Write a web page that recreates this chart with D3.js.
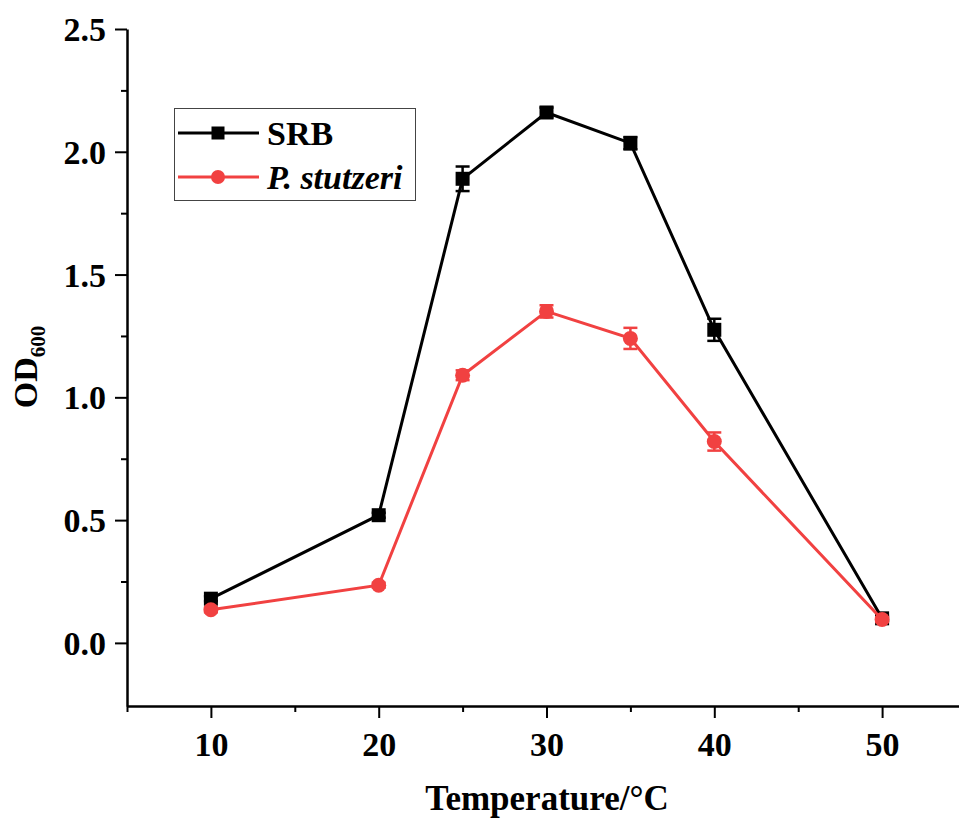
<!DOCTYPE html>
<html>
<head>
<meta charset="utf-8">
<script src="https://cdn.jsdelivr.net/npm/d3@7/dist/d3.min.js"></script>
<style>
    body { margin: 0; background: #fff; }
    svg { display: block; font-family: "Liberation Serif", "Times New Roman", serif; font-weight: bold; }
</style>
</head>
<body>
<div class="chart"></div>
<script>
const temps = [10, 20, 25, 30, 35, 40, 50];
const srbValues = [0.18, 0.52, 1.89, 2.16, 2.035, 1.275, 0.10];
const srbErrors = [0.01, 0.01, 0.05, 0.02, 0.025, 0.045, 0.01];
const stutzeriValues = [0.135, 0.235, 1.09, 1.35, 1.24, 0.82, 0.095];
const stutzeriErrors = [0.01, 0.01, 0.02, 0.025, 0.043, 0.037, 0.01];
const xTicks = [10, 20, 30, 40, 50];
const xMinorTicks = [5, 15, 25, 35, 45];
const yTicks = [0, 0.5, 1.0, 1.5, 2.0, 2.5];
const yMinorTicks = [0.25, 0.75, 1.25, 1.75, 2.25];

const series = [
    { name: "SRB", italic: false, color: "#000000", shape: "square", values: srbValues, errors: srbErrors },
    { name: "P. stutzeri", italic: true, color: "#f14141", shape: "circle", values: stutzeriValues, errors: stutzeriErrors }
];

const fontFamily = '"Liberation Serif", "Times New Roman", serif';
const w = 959, h = 818;
const svg = d3.select(".chart").append("svg")
    .attr("width", w)
    .attr("height", h);

const x = d3.scaleLinear().domain([5, 55]).range([127, 966]);
const y = d3.scaleLinear().domain([-0.257, 2.5]).range([706, 29]);

// minor ticks
svg.append("g")
    .attr("transform", "translate(127,0)")
    .call(d3.axisLeft(y).tickValues(yMinorTicks).tickSize(6).tickFormat(""))
    .call(g => g.select(".domain").remove())
    .selectAll("line").attr("stroke-width", 2);

svg.append("g")
    .attr("transform", "translate(0,706)")
    .call(d3.axisBottom(x).tickValues(xMinorTicks).tickSize(6).tickFormat(""))
    .call(g => g.select(".domain").remove())
    .selectAll("line").attr("stroke-width", 2);

// major axes
const yAxis = svg.append("g")
    .attr("transform", "translate(127,0)")
    .call(d3.axisLeft(y).tickValues(yTicks).tickSize(12).tickSizeOuter(0).tickPadding(9).tickFormat(d3.format(".1f")))
    .attr("font-family", fontFamily)
    .attr("font-size", 34)
    .attr("font-weight", "bold");
yAxis.selectAll("line").attr("stroke-width", 2);
yAxis.select(".domain").attr("stroke-width", 2.5);
yAxis.selectAll("text").attr("dy", "0.34em");

const xAxis = svg.append("g")
    .attr("transform", "translate(0,706)")
    .call(d3.axisBottom(x).tickValues(xTicks).tickSize(12).tickSizeOuter(0).tickPadding(14).tickFormat(d3.format("d")))
    .attr("font-family", fontFamily)
    .attr("font-size", 34)
    .attr("font-weight", "bold");
xAxis.selectAll("line").attr("stroke-width", 2);
xAxis.select(".domain").attr("stroke-width", 2.5);

// axis titles
svg.append("text")
    .attr("x", 547)
    .attr("y", 810)
    .attr("text-anchor", "middle")
    .style("font-size", "35px")
    .text("Temperature/\u00B0C");

const yTitle = svg.append("text")
    .attr("transform", "translate(37,367) rotate(-90)")
    .attr("text-anchor", "middle")
    .style("font-size", "34px");
yTitle.append("tspan").text("OD");
yTitle.append("tspan").attr("dy", 8).style("font-size", "21px").text("600");

// series
const line = d3.line().x(d => x(d.t)).y(d => y(d.v));

function drawMarker(g, shape, color, size) {
    if (shape === "square") {
        g.append("rect")
            .attr("x", -size / 2).attr("y", -size / 2)
            .attr("width", size).attr("height", size)
            .attr("fill", color);
    } else {
        g.append("circle").attr("r", size / 2 + 0.5).attr("fill", color);
    }
}

series.forEach(s => {
    const pts = temps.map((t, i) => ({ t: t, v: s.values[i], e: s.errors[i] }));
    const g = svg.append("g");

    g.append("path")
        .datum(pts)
        .attr("fill", "none")
        .attr("stroke", s.color)
        .attr("stroke-width", 3)
        .attr("d", line);

    const eb = g.selectAll(".err").data(pts).enter().append("g").attr("class", "err");
    eb.append("line")
        .attr("x1", d => x(d.t)).attr("x2", d => x(d.t))
        .attr("y1", d => y(d.v - d.e)).attr("y2", d => y(d.v + d.e))
        .attr("stroke", s.color).attr("stroke-width", 2.5);
    [-1, 1].forEach(sign => {
        eb.append("line")
            .attr("x1", d => x(d.t) - 7).attr("x2", d => x(d.t) + 7)
            .attr("y1", d => y(d.v + sign * d.e)).attr("y2", d => y(d.v + sign * d.e))
            .attr("stroke", s.color).attr("stroke-width", 2.5);
    });

    g.selectAll(".pt").data(pts).enter().append("g")
        .attr("class", "pt")
        .attr("transform", d => `translate(${x(d.t)},${y(d.v)})`)
        .each(function () { drawMarker(d3.select(this), s.shape, s.color, 14); });
});

// legend
const legend = svg.append("g").attr("id", "legend");
legend.append("rect")
    .attr("x", 174.5).attr("y", 108.5)
    .attr("width", 241).attr("height", 92)
    .attr("fill", "#fff")
    .attr("stroke", "#444").attr("stroke-width", 1);

const legendY = d3.scalePoint().domain(series.map(s => s.name)).range([133, 177]);
series.forEach(s => {
    const ly = legendY(s.name);
    legend.append("line")
        .attr("x1", 178).attr("x2", 259)
        .attr("y1", ly).attr("y2", ly)
        .attr("stroke", s.color).attr("stroke-width", 3);
    const m = legend.append("g").attr("transform", `translate(218,${ly})`);
    drawMarker(m, s.shape, s.color, 13);
    legend.append("text")
        .attr("x", 267).attr("y", ly)
        .attr("dy", "0.35em")
        .style("font-size", "34px")
        .style("font-style", s.italic ? "italic" : "normal")
        .text(s.name);
});
</script>
</body>
</html>
